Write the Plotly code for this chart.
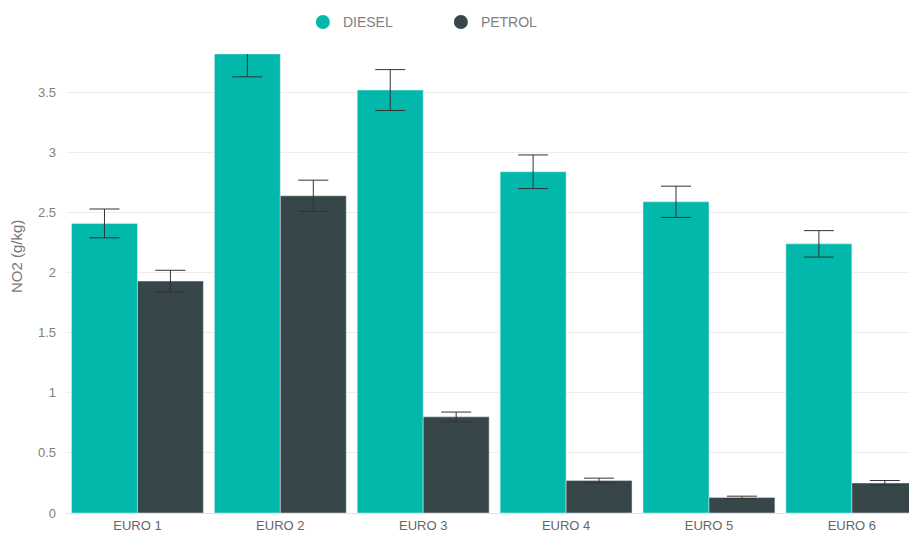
import plotly.graph_objects as go

categories = ["EURO 1", "EURO 2", "EURO 3", "EURO 4", "EURO 5", "EURO 6"]
diesel = [2.41, 3.82, 3.52, 2.84, 2.59, 2.24]
diesel_err = [0.12, 0.19, 0.17, 0.14, 0.13, 0.11]
petrol = [1.93, 2.64, 0.80, 0.27, 0.13, 0.25]
petrol_err = [0.09, 0.13, 0.04, 0.02, 0.01, 0.02]
y_ticks = [0, 0.5, 1, 1.5, 2, 2.5, 3, 3.5]
y_ticktext = ["0", "0.5", "1", "1.5", "2", "2.5", "3", "3.5"]

C_DIESEL = "#01B8AA"
C_PETROL = "#374649"

fig = go.Figure()
fig.add_trace(go.Bar(x=categories, y=diesel, name="DIESEL", marker_color=C_DIESEL,
                     error_y=dict(type="data", array=diesel_err, color="#333333", thickness=1, width=15),
                     showlegend=False))
fig.add_trace(go.Bar(x=categories, y=petrol, name="PETROL", marker_color=C_PETROL,
                     error_y=dict(type="data", array=petrol_err, color="#333333", thickness=1, width=15),
                     showlegend=False))
# legend entries with circle markers
fig.add_trace(go.Scatter(x=[None], y=[None], mode="markers", name="DIESEL",
                         marker=dict(color=C_DIESEL, size=14, symbol="circle")))
fig.add_trace(go.Scatter(x=[None], y=[None], mode="markers", name="PETROL",
                         marker=dict(color=C_PETROL, size=14, symbol="circle")))

fig.update_layout(
    width=909, height=533,
    margin=dict(l=66, r=0, t=54, b=20),
    paper_bgcolor="white", plot_bgcolor="white",
    barmode="group", bargap=0.077, bargroupgap=0,
    font=dict(family="Arial, Liberation Sans, sans-serif", color="#777777", size=12),
    legend=dict(orientation="h", x=0.281, xanchor="left", y=1.069, yanchor="middle",
                font=dict(size=14, color="#808080"), itemwidth=30,
                entrywidth=93, entrywidthmode="pixels"),
    xaxis=dict(type="category", range=[-0.5, 5.4], showgrid=False, showline=True,
               linecolor="#dfe3ea", linewidth=1, ticks="", automargin=False,
               tickfont=dict(size=13, color="#666666")),
    yaxis=dict(range=[0, 3.82], tickvals=y_ticks, ticktext=y_ticktext, showgrid=True,
               gridcolor="#eeeeee", gridwidth=1, zeroline=False, ticks="", automargin=False,
               tickfont=dict(size=13, color="#808080"), ticklabelstandoff=9),
    annotations=[dict(text="NO2 (g/kg)", textangle=-90, xref="paper", yref="paper",
                      x=-(66 - 16) / 843, y=(513 - 257) / 459, xanchor="center", yanchor="middle",
                      showarrow=False, font=dict(size=15, color="#777777"))],
)

fig.write_html("out.html")
